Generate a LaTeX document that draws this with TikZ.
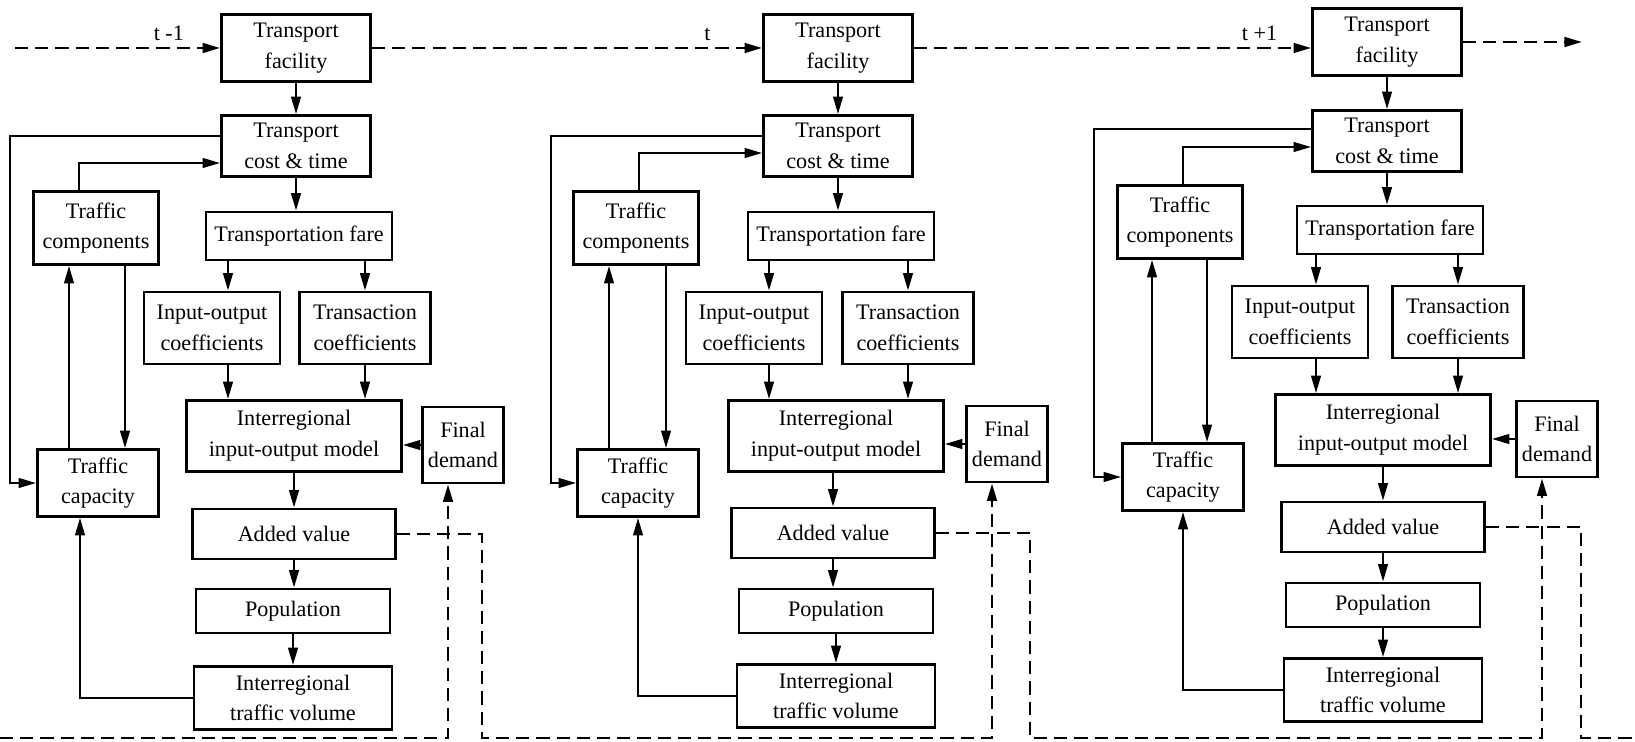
\documentclass[tikz,border=0pt]{standalone}
\usepackage{fontspec}
\setmainfont{Liberation Serif}
\usetikzlibrary{arrows.meta,calc}

\tikzset{
  box/.style={draw, line width=1.6pt, shape=rectangle, align=center, inner sep=1pt, font=\fontsize{12.6}{17.5}\selectfont},
  tfbox/.style={box, minimum width=2.98cm, minimum height=1.34cm},
  tctbox/.style={box, minimum width=2.98cm, minimum height=1.22cm},
  compbox/.style={box, minimum width=2.5cm, minimum height=1.46cm},
  farebox/.style={box, minimum width=3.72cm, minimum height=0.96cm},
  iobox/.style={box, minimum width=2.72cm, minimum height=1.44cm},
  transbox/.style={box, minimum width=2.62cm, minimum height=1.44cm},
  modelbox/.style={box, minimum width=4.3cm, minimum height=1.42cm},
  fdbox/.style={box, minimum width=1.62cm, minimum height=1.52cm},
  capbox/.style={box, minimum width=2.42cm, minimum height=1.34cm},
  avbox/.style={box, minimum width=4.06cm, minimum height=1.0cm},
  popbox/.style={box, minimum width=3.88cm, minimum height=0.88cm},
  volbox/.style={box, minimum width=3.96cm, minimum height=1.26cm},
  tlabel/.style={above, font=\fontsize{12.6}{15}\selectfont},
  link/.style={line width=1.3pt},
  dashline/.style={line width=1.5pt, dash pattern=on 7.5pt off 4pt},
}

\begin{document}
\begin{tikzpicture}[x=0.02cm, y=-0.02cm, >={Triangle[length=10pt,width=5.5pt]}]
\useasboundingbox (0,0) rectangle (1635,742);

\node (tfa) at (296,48) [tfbox] {Transport\\facility};
\node (tcta) at (296,146) [tctbox] {Transport\\cost \& time};
\node (compa) at (96,228) [compbox] {Traffic\\components};
\node (farea) at (299,236) [farebox] {Transportation fare};
\node (ioa) at (212,328) [iobox] {Input-output\\coefficients};
\node (transa) at (365,328) [transbox] {Transaction\\coefficients};
\node (modela) at (294,436) [modelbox] {Interregional\\input-output model};
\node (fda) at (463,445) [fdbox] {Final\\demand};
\node (capa) at (98,483) [capbox] {Traffic\\capacity};
\node (ava) at (294,534) [avbox] {Added value};
\node (popa) at (293,611) [popbox] {Population};
\node (vola) at (293,698) [volbox] {Interregional\\traffic volume};

\node (tfb) at (838,48) [tfbox] {Transport\\facility};
\node (tctb) at (838,146) [tctbox] {Transport\\cost \& time};
\node (compb) at (636,228) [compbox] {Traffic\\components};
\node (fareb) at (841,236) [farebox] {Transportation fare};
\node (iob) at (754,328) [iobox] {Input-output\\coefficients};
\node (transb) at (908,328) [transbox] {Transaction\\coefficients};
\node (modelb) at (836,436) [modelbox] {Interregional\\input-output model};
\node (fdb) at (1007,444) [fdbox] {Final\\demand};
\node (capb) at (638,483) [capbox] {Traffic\\capacity};
\node (avb) at (833,533) [avbox] {Added value};
\node (popb) at (836,611) [popbox] {Population};
\node (volb) at (836,696) [volbox] {Interregional\\traffic volume};

\node (tfc) at (1387,42) [tfbox] {Transport\\facility};
\node (tctc) at (1387,141) [tctbox] {Transport\\cost \& time};
\node (compc) at (1180,222) [compbox] {Traffic\\components};
\node (farec) at (1390,230) [farebox] {Transportation fare};
\node (ioc) at (1300,322) [iobox] {Input-output\\coefficients};
\node (transc) at (1458,322) [transbox] {Transaction\\coefficients};
\node (modelc) at (1383,430) [modelbox] {Interregional\\input-output model};
\node (fdc) at (1557,439) [fdbox] {Final\\demand};
\node (capc) at (1183,477) [capbox] {Traffic\\capacity};
\node (avc) at (1383,527) [avbox] {Added value};
\node (popc) at (1383,605) [popbox] {Population};
\node (volc) at (1383,690) [volbox] {Interregional\\traffic volume};

\coordinate (topin) at (15,48);
\coordinate (topout) at (1582,42);
\coordinate (botin) at (0,738);
\coordinate (botout) at (1635,738);

\draw [dashline,->] (topin) -- node [tlabel, pos=0.75] {t -1} (tfa.west);
\draw [dashline,->] (tfa.east) -- node [tlabel, pos=0.86] {t} (tfb.west);
\draw [dashline,->] (tfb.east) -- node [tlabel, pos=0.87] {t +1} (tfb.east -| tfc.west);
\draw [dashline,->] (tfc.east) -- (topout);

\draw [link,->] (tfa) -- (tcta);
\draw [link,->] (tcta.south) -- (tcta.south |- farea.north);
\draw [link,->] ($(ioa.north |- farea.south)+(16,0)$) -- ($(ioa.north)+(16,0)$);
\draw [link,->] (transa.north |- farea.south) -- (transa.north);
\draw [link,->] ($(ioa.south)+(16,0)$) -- ($(ioa.south |- modela.north)+(16,0)$);
\draw [link,->] (transa.south) -- (transa.south |- modela.north);
\draw [link,->] (fda.west) -- (fda.west -| modela.east);
\draw [link,->] (modela) -- (ava);
\draw [link,->] (ava.south) -- (ava.south |- popa.north);
\draw [link,->] (popa) -- (vola);
\draw [link,->] (vola.west) -| ($(capa.south)+(-18,0)$);
\draw [link,->] ($(tcta.west)+(0,-10)$) -- ++(-210,0) |- (capa.west);
\draw [link,->] ($(compa.north)+(-17,0)$) |- ($(tcta.west)+(0,17)$);
\draw [link,->] ($(capa.north)+(-29,0)$) -- ($(capa.north |- compa.south)+(-29,0)$);
\draw [link,->] ($(compa.south)+(29,0)$) -- ($(compa.south |- capa.north)+(29,0)$);

\draw [link,->] (tfb) -- (tctb);
\draw [link,->] (tctb.south) -- (tctb.south |- fareb.north);
\draw [link,->] ($(iob.north |- fareb.south)+(15,0)$) -- ($(iob.north)+(15,0)$);
\draw [link,->] (transb.north |- fareb.south) -- (transb.north);
\draw [link,->] ($(iob.south)+(15,0)$) -- ($(iob.south |- modelb.north)+(15,0)$);
\draw [link,->] (transb.south) -- (transb.south |- modelb.north);
\draw [link,->] (fdb.west) -- (fdb.west -| modelb.east);
\draw [link,->] (avb.north |- modelb.south) -- (avb.north);
\draw [link,->] (avb.south) -- (avb.south |- popb.north);
\draw [link,->] (popb) -- (volb);
\draw [link,->] (volb.west) -| (capb.south);
\draw [link,->] ($(tctb.west)+(0,-10)$) -- ++(-211,0) |- (capb.west);
\draw [link,->] ($(compb.north)+(3,0)$) |- ($(tctb.west)+(0,7)$);
\draw [link,->] ($(capb.north)+(-29,0)$) -- ($(capb.north |- compb.south)+(-29,0)$);
\draw [link,->] ($(compb.south)+(30,0)$) -- ($(compb.south |- capb.north)+(30,0)$);

\draw [link,->] (tfc) -- (tctc);
\draw [link,->] (tctc.south) -- (tctc.south |- farec.north);
\draw [link,->] ($(ioc.north |- farec.south)+(16,0)$) -- ($(ioc.north)+(16,0)$);
\draw [link,->] (transc.north |- farec.south) -- (transc.north);
\draw [link,->] ($(ioc.south)+(16,0)$) -- ($(ioc.south |- modelc.north)+(16,0)$);
\draw [link,->] (transc.south) -- (transc.south |- modelc.north);
\draw [link,->] (fdc.west) -- (fdc.west -| modelc.east);
\draw [link,->] (modelc) -- (avc);
\draw [link,->] (avc) -- (popc);
\draw [link,->] (popc) -- (volc);
\draw [link,->] (volc.west) -| (capc.south);
\draw [link,->] ($(tctc.west)+(0,-12)$) -- ++(-217,0) |- (capc.west);
\draw [link,->] ($(compc.north)+(3,0)$) |- ($(tctc.west)+(0,6)$);
\draw [link,->] ($(capc.north)+(-31,0)$) -- ($(capc.north |- compc.south)+(-31,0)$);
\draw [link,->] ($(compc.south)+(27,0)$) -- ($(compc.south |- capc.north)+(27,0)$);

\draw [dashline,->] (botin) -| ($(fda.south)+(-15,0)$);
\draw [dashline,->] (ava.east) -- ++(85,0) |- ($(fdb.south |- botin)+(-15,0)$) -- ($(fdb.south)+(-15,0)$);
\draw [dashline,->] (avb.east) -- ++(94,0) |- ($(fdc.south |- botin)+(-15,0)$) -- ($(fdc.south)+(-15,0)$);
\draw [dashline] (avc.east) -- ++(95,0) |- (botout);
\end{tikzpicture}
\end{document}
